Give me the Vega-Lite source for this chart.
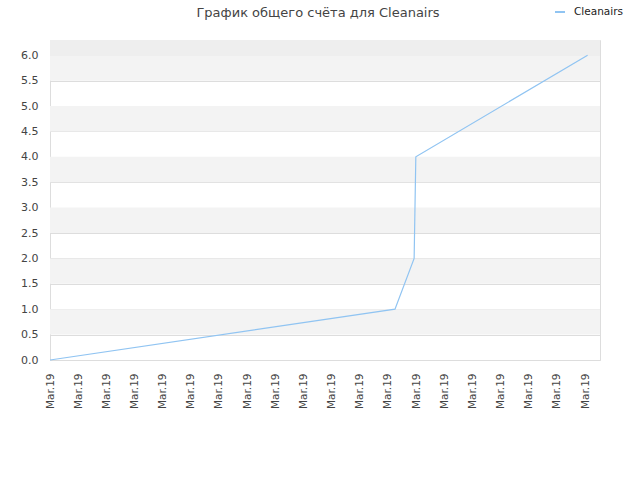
{
  "$schema": "https://vega.github.io/schema/vega-lite/v6.json",
  "autosize": "none",
  "width": 550,
  "height": 320,
  "padding": {"left": 50, "top": 40, "right": 40, "bottom": 120},
  "background": "white",
  "title": {
    "text": "График общего счёта для Cleanairs",
    "font": "DejaVu Sans",
    "fontSize": 13,
    "fontWeight": "normal",
    "color": "#444444",
    "anchor": "middle",
    "dx": -7,
    "offset": 0,
    "dy": 14
  },
  "config": {
    "view": {"stroke": "#dddddd", "strokeWidth": 1},
    "font": "DejaVu Sans",
    "axisY": {
      "values": [0,0.5,1,1.5,2,2.5,3,3.5,4,4.5,5,5.5,6],
      "tickCount": 13,
      "labelOverlap": false,
      "labelFontSize": 11,
      "labelColor": "#444444",
      "ticks": false,
      "domain": false,
      "grid": true,
      "gridColor": "#dddddd",
      "labelPadding": 12,
      "format": ".1f"
    }
  },
  "datasets": {
    "bands": [
      {"lo": 0.5, "hi": 1.0},
      {"lo": 1.5, "hi": 2.0},
      {"lo": 2.5, "hi": 3.0},
      {"lo": 3.5, "hi": 4.0},
      {"lo": 4.5, "hi": 5.0},
      {"lo": 5.5, "hi": 6.0}
    ],
    "top": [{"lo": 6.0, "hi": 6.3}],
    "scores": [
      {"t": 0.0, "score": 0, "player": "Cleanairs"},
      {"t": 12.25, "score": 1, "player": "Cleanairs"},
      {"t": 12.93, "score": 2, "player": "Cleanairs"},
      {"t": 12.99, "score": 4, "player": "Cleanairs"},
      {"t": 19.09, "score": 6, "player": "Cleanairs"}
    ]
  },
  "layer": [
    {
      "data": {"name": "bands"},
      "mark": {"type": "rect", "color": "#f3f3f3"},
      "encoding": {
        "y": {
          "field": "lo",
          "type": "quantitative",
          "scale": {"domain": [0, 6.3], "nice": false, "zero": true},
          "axis": {
            "title": null,
            "values": [0,0.5,1,1.5,2,2.5,3,3.5,4,4.5,5,5.5,6],
            "tickCount": 13,
            "format": ".1f",
            "labelOverlap": false
          }
        },
        "y2": {"field": "hi"}
      }
    },
    {
      "data": {"name": "top"},
      "mark": {"type": "rect", "color": "#eeeeee"},
      "encoding": {
        "y": {"field": "lo", "type": "quantitative"},
        "y2": {"field": "hi"}
      }
    },
    {
      "data": {"name": "scores"},
      "mark": {"type": "line", "strokeWidth": 1.2},
      "encoding": {
        "x": {
          "field": "t",
          "type": "quantitative",
          "scale": {"domain": [0, 19.53], "nice": false, "zero": false},
          "axis": {
            "title": null,
            "values": [0,1,2,3,4,5,6,7,8,9,10,11,12,13,14,15,16,17,18,19],
            "labelExpr": "'Mar.19'",
            "labelAngle": -90,
            "labelAlign": "right",
            "labelBaseline": "middle",
            "labelFontSize": 10.5,
            "labelColor": "#444444",
            "labelPadding": 13,
            "ticks": false,
            "domain": false,
            "grid": false,
            "labelOverlap": false
          }
        },
        "y": {
          "field": "score",
          "type": "quantitative"
        },
        "color": {
          "field": "player",
          "type": "nominal",
          "scale": {"range": ["#90c4f2"]},
          "legend": {
            "title": null,
            "orient": "none",
            "legendX": 504,
            "legendY": -34,
            "symbolType": "stroke",
            "symbolSize": 100,
            "symbolStrokeWidth": 2,
            "labelOffset": 8,
            "labelFontSize": 10.5,
            "labelColor": "#222222",
            "labelFont": "DejaVu Sans"
          }
        }
      }
    }
  ]
}
